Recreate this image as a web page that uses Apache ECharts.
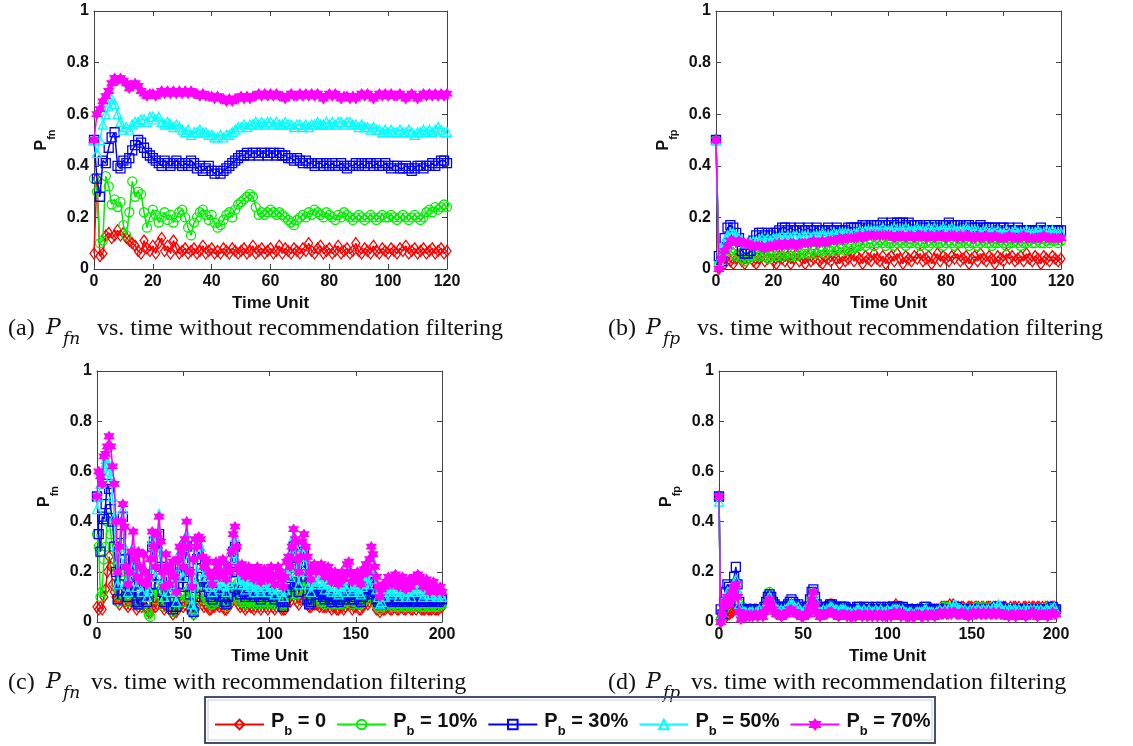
<!DOCTYPE html>
<html><head><meta charset="utf-8">
<script src="https://cdn.jsdelivr.net/npm/echarts@6/dist/echarts.min.js"></script>
<style>html,body{margin:0;padding:0;background:#fff}#c{width:1133px;height:746px}</style>
</head><body><div id="c"></div>
<script>
// ---------- (a) P_fn without filtering, t = 0..120 ----------
const fnA_0 = [.06,.35,.05,.06,.13,.14,.12,.13,.15,.13,
.14,.12,.11,.10,.09,.07,.06,.11,.08,.07,
.09,.06,.10,.12,.07,.09,.06,.11,.08,.06,
.07,.08,.06,.07,.08,.06,.07,.09,.06,.07,
.08,.06,.07,.06,.08,.07,.06,.08,.07,.06,
.07,.08,.06,.07,.09,.06,.07,.08,.06,.07,
.08,.06,.07,.09,.06,.08,.07,.06,.08,.07,
.06,.08,.07,.10,.07,.06,.08,.09,.06,.07,
.08,.06,.07,.09,.06,.07,.08,.06,.07,.10,
.07,.06,.08,.07,.06,.09,.07,.06,.08,.07,
.06,.08,.07,.06,.08,.07,.09,.06,.07,.08,
.06,.07,.08,.06,.07,.08,.06,.07,.08,.06,
.07];
const fnA_10 = [.35,.30,.10,.11,.36,.32,.25,.27,.24,.26,
.17,.13,.22,.34,.28,.30,.29,.22,.16,.20,
.23,.21,.18,.20,.22,.19,.21,.18,.20,.22,
.23,.20,.16,.13,.18,.20,.22,.23,.21,.19,
.21,.18,.16,.17,.19,.21,.22,.20,.23,.25,
.26,.27,.28,.29,.28,.24,.21,.22,.21,.22,
.23,.22,.21,.22,.21,.20,.19,.18,.17,.19,
.20,.21,.20,.22,.21,.23,.22,.21,.20,.22,
.21,.20,.19,.21,.20,.22,.21,.20,.19,.20,
.21,.20,.19,.20,.21,.20,.19,.20,.21,.20,
.20,.21,.20,.19,.20,.21,.20,.19,.20,.21,
.20,.19,.20,.22,.23,.22,.24,.23,.24,.25,
.24];
const fnA_30 = [.50,.35,.28,.42,.41,.47,.51,.53,.40,.39,
.42,.41,.43,.46,.48,.50,.49,.47,.45,.44,
.43,.42,.41,.40,.42,.41,.40,.41,.42,.41,
.40,.41,.40,.42,.41,.39,.40,.38,.39,.40,
.38,.37,.38,.37,.38,.39,.40,.41,.42,.43,
.44,.44,.45,.44,.45,.45,.44,.45,.45,.44,
.45,.45,.44,.45,.44,.44,.43,.43,.42,.43,
.42,.41,.42,.41,.41,.40,.41,.41,.40,.41,
.40,.41,.40,.40,.41,.40,.39,.40,.40,.41,
.40,.41,.40,.41,.41,.40,.41,.40,.40,.41,
.40,.39,.40,.40,.39,.39,.40,.39,.38,.39,
.40,.40,.39,.40,.40,.41,.40,.41,.42,.42,
.41];
const fnA_50 = [.50,.45,.50,.56,.60,.63,.66,.64,.60,.57,
.54,.55,.54,.56,.57,.57,.58,.58,.57,.59,
.59,.58,.59,.57,.56,.57,.56,.55,.56,.55,
.54,.53,.54,.52,.53,.53,.54,.53,.53,.52,
.52,.51,.51,.52,.51,.52,.52,.53,.54,.55,
.55,.56,.55,.56,.56,.57,.56,.57,.56,.57,
.57,.56,.57,.56,.56,.57,.56,.56,.55,.56,
.56,.55,.56,.55,.56,.56,.57,.56,.56,.57,
.56,.57,.56,.57,.57,.56,.57,.57,.56,.56,
.55,.56,.55,.55,.54,.55,.54,.54,.53,.54,
.53,.54,.53,.53,.54,.53,.53,.54,.53,.52,
.53,.53,.54,.53,.54,.53,.54,.55,.54,.53,
.53];
const fnA_70 = [.50,.60,.62,.65,.67,.69,.72,.74,.73,.74,
.73,.72,.70,.71,.72,.71,.69,.68,.67,.68,
.68,.67,.68,.69,.68,.69,.68,.69,.68,.69,
.68,.69,.68,.69,.68,.68,.67,.68,.67,.67,
.67,.66,.67,.66,.66,.65,.66,.65,.66,.66,
.67,.66,.67,.66,.67,.67,.68,.67,.68,.67,
.68,.67,.68,.67,.67,.66,.67,.68,.67,.67,
.68,.67,.68,.67,.68,.67,.68,.67,.66,.67,
.68,.67,.68,.67,.66,.67,.67,.66,.67,.66,
.67,.68,.67,.68,.67,.66,.67,.68,.67,.68,
.67,.68,.67,.67,.68,.67,.66,.67,.68,.67,
.66,.67,.68,.67,.68,.67,.68,.67,.68,.67,
.68];

// ---------- (b) P_fp without filtering, t = 0..120 ----------
const fpB_0 = [.50,.00,.03,.02,.05,.03,.02,.04,.05,.03,
.02,.04,.05,.03,.02,.04,.05,.03,.04,.06,
.03,.02,.05,.04,.03,.05,.02,.04,.06,.03,
.04,.02,.05,.03,.04,.06,.03,.02,.05,.04,
.03,.05,.04,.02,.05,.03,.04,.06,.03,.05,
.04,.02,.05,.04,.03,.06,.04,.03,.05,.02,
.04,.05,.03,.06,.04,.02,.05,.04,.03,.05,
.04,.06,.03,.04,.05,.02,.04,.06,.03,.05,
.04,.03,.05,.04,.06,.03,.04,.05,.02,.04,
.05,.03,.06,.04,.03,.05,.04,.02,.05,.04,
.03,.06,.04,.05,.03,.04,.05,.03,.06,.04,
.03,.05,.04,.02,.05,.04,.03,.05,.04,.03,
.04];
const fpB_10 = [.50,.02,.05,.07,.08,.07,.06,.05,.06,.04,
.03,.04,.05,.05,.06,.05,.06,.05,.04,.05,
.06,.05,.06,.05,.06,.06,.05,.06,.05,.06,
.06,.07,.06,.06,.07,.06,.07,.07,.06,.07,
.07,.08,.07,.08,.08,.07,.08,.09,.08,.09,
.09,.10,.09,.10,.10,.09,.10,.11,.10,.09,
.10,.10,.09,.10,.11,.10,.09,.10,.10,.11,
.10,.09,.10,.10,.09,.10,.11,.10,.10,.09,
.10,.11,.10,.09,.10,.10,.11,.10,.09,.10,
.10,.09,.10,.11,.10,.10,.09,.10,.10,.11,
.10,.09,.10,.10,.11,.10,.09,.10,.10,.11,
.10,.10,.11,.10,.10,.11,.10,.11,.11,.10,
.11];
const fpB_30 = [.50,.05,.03,.12,.16,.17,.16,.14,.12,.07,
.06,.06,.07,.11,.13,.14,.14,.13,.14,.13,
.14,.14,.15,.16,.16,.15,.16,.15,.15,.16,
.15,.15,.16,.15,.15,.16,.15,.15,.15,.16,
.15,.15,.16,.15,.15,.15,.16,.16,.16,.16,
.16,.17,.17,.16,.17,.17,.17,.17,.18,.17,
.17,.18,.17,.18,.18,.18,.17,.18,.17,.17,
.17,.17,.16,.17,.16,.16,.17,.16,.17,.17,
.17,.18,.17,.17,.17,.17,.16,.17,.17,.16,
.16,.16,.17,.16,.16,.16,.16,.16,.15,.16,
.16,.15,.16,.15,.15,.16,.15,.15,.15,.15,
.15,.15,.15,.16,.15,.15,.15,.15,.15,.15,
.15];
const fpB_50 = [.50,.03,.08,.11,.13,.14,.14,.13,.12,.11,
.10,.10,.10,.11,.11,.11,.12,.11,.12,.11,
.12,.12,.12,.13,.12,.13,.12,.13,.13,.12,
.13,.13,.13,.12,.13,.13,.13,.14,.13,.13,
.13,.14,.13,.14,.14,.14,.14,.13,.14,.14,
.15,.14,.15,.15,.15,.15,.15,.15,.16,.15,
.15,.15,.16,.15,.15,.15,.16,.15,.15,.15,
.16,.15,.15,.15,.16,.15,.16,.15,.15,.16,
.15,.15,.16,.15,.15,.15,.15,.16,.15,.15,
.15,.15,.14,.15,.15,.14,.15,.14,.15,.14,
.14,.15,.14,.14,.15,.14,.14,.14,.15,.14,
.14,.14,.15,.14,.14,.15,.14,.15,.14,.14,
.14];
const fpB_70 = [.50,.00,.04,.07,.09,.11,.11,.10,.11,.10,
.10,.10,.09,.09,.09,.09,.09,.08,.09,.09,
.09,.09,.10,.09,.10,.09,.10,.10,.09,.10,
.10,.10,.10,.10,.11,.10,.10,.11,.10,.11,
.11,.11,.11,.12,.11,.12,.12,.12,.12,.12,
.13,.12,.13,.13,.13,.13,.13,.13,.13,.13,
.13,.13,.12,.13,.13,.13,.12,.13,.13,.12,
.13,.13,.13,.12,.13,.13,.12,.13,.13,.13,
.12,.13,.13,.13,.12,.13,.12,.13,.13,.12,
.12,.13,.12,.12,.13,.12,.12,.13,.12,.12,
.12,.12,.13,.12,.12,.12,.12,.13,.12,.12,
.12,.12,.12,.12,.13,.12,.12,.12,.12,.12,
.12];

// ---------- (c) P_fn with filtering, t = 0..200 ----------
const fnC_0 = [.06,.05,.06,.05,.10,.13,.20,.26,.22,.15,
.12,.10,.08,.07,.09,.10,.08,.07,.06,.07,
.08,.09,.07,.05,.06,.07,.06,.07,.06,.05,
.04,.04,.06,.08,.06,.07,.09,.08,.06,.05,
.06,.06,.05,.04,.03,.04,.04,.06,.08,.07,
.06,.07,.09,.07,.05,.04,.03,.05,.09,.10,
.09,.07,.06,.07,.06,.05,.05,.06,.06,.07,
.07,.06,.07,.06,.05,.05,.06,.07,.09,.11,
.12,.09,.07,.06,.07,.06,.05,.06,.07,.06,
.06,.05,.06,.07,.06,.05,.06,.07,.06,.05,
.06,.07,.06,.05,.06,.07,.06,.05,.05,.05,
.07,.09,.08,.11,.13,.12,.08,.07,.09,.11,
.12,.09,.07,.06,.06,.07,.07,.07,.07,.06,
.07,.06,.06,.06,.07,.06,.05,.06,.06,.05,
.05,.06,.06,.05,.06,.07,.08,.07,.05,.06,
.06,.07,.05,.05,.06,.07,.08,.07,.08,.10,
.09,.07,.05,.05,.04,.05,.05,.05,.06,.06,
.05,.05,.06,.06,.05,.05,.06,.06,.05,.05,
.06,.06,.05,.05,.06,.05,.06,.06,.05,.05,
.05,.06,.05,.05,.05,.06,.05,.05,.05,.06,
.06];
const fnC_10 = [.35,.30,.10,.12,.25,.30,.40,.42,.35,.30,
.22,.15,.08,.12,.20,.25,.18,.10,.08,.09,
.12,.15,.10,.07,.08,.09,.07,.10,.08,.05,
.03,.02,.10,.15,.09,.12,.15,.12,.08,.06,
.10,.09,.07,.05,.04,.06,.05,.09,.12,.11,
.08,.12,.15,.10,.07,.04,.03,.06,.15,.17,
.14,.11,.09,.10,.09,.08,.07,.07,.08,.09,
.09,.08,.09,.08,.07,.06,.08,.09,.13,.16,
.17,.12,.09,.08,.09,.08,.07,.08,.09,.08,
.08,.07,.08,.09,.08,.07,.08,.09,.08,.07,
.08,.09,.08,.07,.08,.09,.08,.07,.06,.07,
.10,.12,.11,.15,.18,.16,.11,.09,.12,.15,
.17,.13,.09,.08,.08,.09,.10,.09,.09,.08,
.09,.08,.07,.08,.09,.08,.07,.08,.08,.07,
.07,.08,.08,.07,.08,.10,.11,.09,.07,.08,
.08,.09,.07,.07,.08,.09,.10,.09,.11,.13,
.12,.09,.07,.06,.05,.06,.06,.07,.07,.07,
.07,.06,.07,.07,.06,.06,.07,.07,.06,.06,
.07,.07,.06,.06,.07,.06,.07,.07,.06,.06,
.06,.07,.06,.06,.06,.07,.06,.06,.06,.07,
.07];
const fnC_30 = [.50,.35,.28,.42,.41,.47,.55,.53,.45,.40,
.30,.20,.09,.15,.35,.42,.25,.12,.10,.12,
.18,.25,.15,.08,.07,.12,.09,.17,.12,.08,
.10,.15,.30,.32,.15,.28,.35,.22,.12,.08,
.18,.14,.09,.06,.05,.08,.06,.15,.22,.20,
.14,.25,.30,.20,.11,.05,.04,.10,.25,.28,
.25,.18,.14,.16,.14,.12,.10,.09,.11,.13,
.12,.10,.12,.10,.08,.07,.10,.12,.22,.28,
.30,.20,.13,.11,.13,.12,.10,.11,.12,.11,
.12,.10,.11,.12,.10,.09,.11,.12,.11,.10,
.11,.12,.10,.09,.10,.12,.10,.08,.06,.08,
.12,.15,.14,.22,.30,.27,.16,.12,.18,.24,
.28,.20,.09,.07,.08,.12,.13,.11,.12,.11,
.12,.10,.09,.10,.11,.09,.08,.09,.10,.09,
.08,.09,.10,.09,.10,.13,.15,.11,.09,.09,
.10,.11,.09,.08,.10,.11,.13,.11,.14,.18,
.17,.12,.09,.08,.07,.07,.08,.08,.09,.09,
.08,.08,.09,.09,.08,.08,.09,.09,.08,.08,
.09,.09,.08,.08,.09,.08,.09,.09,.08,.08,
.08,.09,.08,.08,.08,.09,.08,.08,.08,.09,
.09];
const fnC_50 = [.45,.50,.55,.60,.62,.65,.63,.60,.58,.50,
.42,.30,.15,.25,.40,.45,.30,.16,.12,.16,
.22,.30,.20,.14,.22,.18,.12,.22,.16,.10,
.13,.20,.33,.28,.18,.33,.43,.28,.15,.10,
.22,.18,.12,.15,.18,.12,.08,.20,.28,.25,
.18,.30,.35,.25,.15,.07,.05,.15,.30,.32,
.30,.22,.18,.20,.18,.15,.14,.12,.15,.18,
.16,.13,.18,.20,.15,.12,.16,.15,.25,.30,
.34,.25,.17,.15,.17,.15,.13,.15,.17,.14,
.15,.12,.14,.16,.13,.12,.15,.16,.14,.12,
.15,.17,.13,.11,.14,.17,.15,.12,.10,.13,
.19,.22,.18,.27,.34,.30,.20,.15,.22,.28,
.32,.26,.20,.15,.12,.17,.18,.15,.17,.16,
.18,.15,.13,.16,.17,.13,.12,.14,.15,.12,
.11,.13,.15,.12,.14,.18,.20,.15,.12,.13,
.14,.15,.12,.11,.14,.16,.18,.15,.20,.26,
.24,.17,.13,.10,.07,.08,.10,.10,.12,.13,
.12,.11,.13,.14,.12,.10,.12,.13,.11,.10,
.12,.13,.10,.12,.13,.12,.14,.13,.12,.10,
.11,.13,.11,.10,.11,.12,.11,.10,.10,.11,
.10];
const fnC_70 = [.50,.60,.58,.55,.66,.67,.70,.74,.70,.62,
.55,.40,.20,.30,.40,.47,.38,.22,.15,.20,
.28,.36,.25,.18,.28,.22,.16,.27,.20,.15,
.18,.25,.36,.30,.22,.35,.42,.32,.20,.14,
.27,.22,.15,.20,.24,.18,.12,.25,.30,.28,
.22,.33,.40,.30,.20,.14,.25,.33,.30,.34,
.33,.26,.22,.25,.24,.20,.18,.15,.20,.24,
.22,.18,.24,.25,.20,.17,.22,.20,.28,.35,
.38,.30,.22,.20,.23,.21,.18,.20,.22,.19,
.21,.17,.19,.22,.18,.16,.20,.21,.19,.17,
.20,.22,.18,.15,.19,.22,.20,.17,.14,.18,
.24,.26,.22,.30,.37,.33,.25,.20,.26,.32,
.35,.30,.26,.20,.17,.22,.23,.20,.22,.21,
.23,.20,.18,.21,.22,.18,.16,.19,.20,.17,
.15,.18,.20,.17,.19,.23,.24,.20,.16,.18,
.19,.20,.17,.15,.19,.21,.23,.20,.25,.30,
.27,.22,.18,.14,.10,.13,.15,.14,.16,.18,
.17,.15,.18,.19,.16,.14,.17,.18,.15,.13,
.16,.17,.14,.16,.18,.17,.19,.18,.16,.14,
.15,.17,.14,.12,.15,.16,.14,.12,.13,.14,
.12];

// ---------- (d) P_fp with filtering, t = 0..200 ----------
const fpD_0 = [.50,.00,.01,.02,.02,.03,.03,.04,.04,.05,
.05,.05,.04,.04,.05,.05,.05,.04,.05,.05,
.04,.05,.05,.04,.05,.05,.05,.06,.07,.10,
.11,.10,.07,.06,.05,.05,.05,.04,.05,.05,
.05,.06,.06,.07,.06,.06,.05,.05,.05,.04,
.04,.05,.05,.05,.07,.09,.10,.08,.06,.05,
.05,.05,.05,.06,.06,.06,.07,.07,.06,.06,
.05,.05,.05,.05,.05,.05,.05,.04,.05,.04,
.05,.05,.05,.04,.05,.05,.05,.05,.04,.05,
.05,.05,.05,.04,.05,.05,.05,.05,.05,.05,
.05,.06,.05,.05,.06,.07,.06,.06,.06,.05,
.05,.05,.05,.04,.05,.05,.04,.04,.05,.05,
.04,.03,.04,.05,.05,.05,.05,.05,.05,.05,
.05,.05,.06,.06,.06,.06,.06,.07,.06,.07,
.06,.06,.06,.05,.06,.06,.05,.05,.06,.06,
.06,.05,.06,.06,.06,.05,.06,.06,.05,.06,
.06,.06,.05,.06,.06,.06,.05,.05,.05,.06,
.06,.05,.05,.06,.05,.06,.06,.05,.06,.05,
.05,.06,.06,.05,.06,.05,.06,.06,.05,.06,
.06,.05,.06,.05,.06,.06,.05,.06,.06,.06,
.05];
const fpD_10 = [.50,.01,.02,.05,.06,.08,.09,.10,.12,.14,
.16,.11,.07,.05,.06,.05,.04,.04,.05,.04,
.04,.04,.05,.05,.04,.05,.05,.06,.08,.11,
.12,.10,.08,.06,.05,.05,.05,.04,.05,.05,
.05,.06,.07,.07,.06,.06,.05,.05,.05,.04,
.04,.05,.05,.05,.08,.10,.12,.09,.06,.05,
.04,.05,.05,.05,.05,.06,.06,.07,.06,.05,
.05,.04,.05,.05,.04,.05,.04,.05,.04,.04,
.05,.04,.05,.05,.05,.04,.05,.05,.04,.05,
.05,.04,.05,.05,.04,.05,.05,.04,.05,.04,
.05,.05,.04,.05,.06,.05,.05,.06,.05,.05,
.05,.04,.05,.04,.05,.04,.04,.05,.05,.05,
.04,.05,.05,.05,.05,.04,.05,.05,.04,.05,
.05,.05,.05,.06,.05,.05,.06,.06,.06,.06,
.06,.06,.05,.05,.05,.05,.05,.05,.05,.05,
.05,.05,.05,.06,.05,.05,.05,.06,.05,.05,
.05,.05,.06,.05,.05,.06,.06,.05,.05,.05,
.05,.05,.05,.05,.04,.05,.05,.05,.05,.05,
.05,.05,.04,.05,.05,.05,.05,.04,.05,.05,
.05,.05,.05,.05,.05,.06,.05,.05,.06,.06,
.05];
const fpD_30 = [.50,.05,.03,.08,.12,.15,.14,.12,.13,.18,
.22,.15,.08,.05,.04,.05,.05,.04,.05,.05,
.05,.04,.05,.05,.05,.04,.05,.06,.08,.10,
.11,.10,.08,.07,.06,.06,.05,.06,.05,.06,
.06,.07,.08,.09,.08,.07,.06,.07,.06,.05,
.05,.06,.05,.06,.09,.12,.13,.10,.07,.05,
.05,.05,.06,.05,.06,.06,.07,.07,.06,.06,
.06,.05,.06,.06,.06,.06,.05,.05,.05,.04,
.05,.05,.06,.06,.05,.05,.06,.05,.05,.06,
.05,.05,.05,.06,.05,.05,.06,.05,.05,.05,
.06,.05,.05,.06,.06,.06,.06,.06,.05,.06,
.05,.05,.04,.05,.05,.04,.04,.05,.05,.05,
.05,.05,.06,.06,.05,.05,.05,.05,.04,.05,
.05,.05,.05,.05,.05,.05,.05,.05,.05,.05,
.05,.06,.05,.05,.05,.05,.05,.05,.05,.05,
.05,.05,.05,.05,.05,.05,.05,.05,.05,.05,
.05,.05,.05,.05,.05,.06,.06,.06,.05,.05,
.05,.05,.05,.05,.05,.05,.05,.05,.05,.05,
.05,.05,.05,.05,.05,.05,.05,.05,.05,.05,
.05,.05,.05,.05,.05,.05,.05,.05,.06,.05,
.05];
const fpD_50 = [.48,.02,.04,.07,.10,.12,.12,.11,.13,.15,
.17,.12,.07,.04,.03,.04,.04,.03,.04,.04,
.04,.03,.04,.04,.05,.04,.05,.05,.07,.09,
.10,.09,.07,.06,.05,.05,.04,.05,.04,.05,
.05,.06,.07,.07,.07,.06,.05,.06,.05,.04,
.04,.05,.04,.05,.08,.11,.12,.09,.06,.04,
.04,.04,.05,.04,.05,.05,.06,.06,.05,.05,
.05,.04,.05,.05,.05,.05,.04,.04,.04,.03,
.04,.04,.05,.05,.04,.04,.05,.04,.04,.05,
.04,.04,.04,.05,.04,.04,.05,.04,.04,.04,
.05,.04,.04,.05,.05,.05,.05,.05,.04,.05,
.04,.04,.03,.04,.04,.03,.03,.04,.04,.04,
.04,.04,.05,.05,.04,.04,.04,.04,.03,.04,
.04,.05,.04,.04,.05,.04,.05,.06,.05,.06,
.07,.06,.05,.05,.05,.04,.05,.04,.04,.05,
.04,.05,.04,.05,.05,.04,.05,.05,.04,.05,
.05,.04,.05,.06,.05,.06,.07,.06,.05,.04,
.05,.04,.05,.05,.04,.05,.05,.04,.05,.04,
.04,.05,.04,.05,.04,.05,.04,.05,.04,.05,
.04,.05,.04,.04,.05,.05,.04,.05,.05,.06,
.04];
const fpD_70 = [.50,.00,.03,.06,.08,.10,.07,.09,.12,.14,
.15,.10,.04,.01,.02,.03,.02,.03,.02,.03,
.02,.03,.03,.02,.03,.03,.02,.04,.05,.08,
.09,.07,.05,.04,.03,.03,.03,.02,.03,.03,
.03,.04,.05,.05,.04,.04,.03,.03,.03,.02,
.02,.03,.03,.03,.06,.09,.12,.07,.04,.03,
.02,.03,.03,.03,.03,.04,.04,.04,.03,.03,
.03,.02,.03,.03,.03,.03,.02,.03,.02,.02,
.03,.02,.03,.03,.03,.02,.03,.03,.02,.03,
.03,.02,.03,.03,.02,.03,.03,.02,.03,.02,
.03,.03,.02,.03,.04,.03,.03,.04,.02,.03,
.03,.02,.02,.02,.03,.02,.02,.03,.03,.03,
.02,.02,.03,.03,.02,.03,.03,.03,.02,.03,
.03,.04,.03,.03,.04,.03,.03,.04,.03,.04,
.04,.03,.03,.03,.04,.03,.03,.03,.02,.03,
.03,.04,.03,.03,.04,.03,.03,.04,.03,.03,
.04,.03,.03,.04,.03,.03,.04,.03,.03,.03,
.03,.03,.02,.03,.03,.03,.02,.03,.03,.03,
.03,.03,.02,.03,.03,.03,.04,.03,.03,.02,
.03,.03,.03,.03,.03,.02,.03,.03,.04,.03,
.03];

// ---------- labels ----------
const seriesNames = ['Pb0', 'Pb10', 'Pb30', 'Pb50', 'Pb70'];
const legendLabels = ['= 0', '= 10%', '= 30%', '= 50%', '= 70%'];
const xTicksAB = {max: 120, interval: 20};
const xTicksCD = {max: 200, interval: 50};
const yNames = ['fn', 'fp', 'fn', 'fp'];
const xTitle = 'Time Unit';
const captions = [
  {tag: '(a)', sub: 'fn', rest: ' vs. time without recommendation filtering'},
  {tag: '(b)', sub: 'fp', rest: ' vs. time without recommendation filtering'},
  {tag: '(c)', sub: 'fn', rest: 'vs. time with recommendation filtering'},
  {tag: '(d)', sub: 'fp', rest: 'vs. time with recommendation filtering'}
];

// ---------- styling ----------
const COLORS = ['#ff0000', '#00ee00', '#0000ff', '#00ffff', '#ff00ff'];
const HEX = 'path://M0,-10 L2.9,-5 L8.66,-5 L5.8,0 L8.66,5 L2.9,5 L0,10 L-2.9,5 L-8.66,5 L-5.8,0 L-8.66,-5 L-2.9,-5 Z';
const SYMBOLS = ['diamond', 'circle', 'rect', 'triangle', HEX];
const SYMSIZE = [[8, 11], 9, 9, 9, 9];
const FONT = 'Liberation Sans';
const SERIF = 'Liberation Serif';
const MATH = 'DejaVu Serif';

const panels = [
  {grid: {left: 94, top: 11, width: 353, height: 258}, x: xTicksAB, data: [fnA_0, fnA_10, fnA_30, fnA_50, fnA_70]},
  {grid: {left: 716, top: 11, width: 345, height: 258}, x: xTicksAB, data: [fpB_0, fpB_10, fpB_30, fpB_50, fpB_70]},
  {grid: {left: 97, top: 371, width: 345, height: 251}, x: xTicksCD, data: [fnC_0, fnC_10, fnC_30, fnC_50, fnC_70]},
  {grid: {left: 719, top: 371, width: 337, height: 251}, x: xTicksCD, data: [fpD_0, fpD_10, fpD_30, fpD_50, fpD_70]}
];

const axisLine = {show: true, onZero: false, lineStyle: {color: '#444', width: 1}};
const axisTick = {show: true, inside: true, length: 5, lineStyle: {color: '#444'}};
const tickLabel = {fontFamily: FONT, fontWeight: 'bold', fontSize: 16, color: '#111'};

const grids = [], xAxes = [], yAxes = [], series = [];
panels.forEach((p, i) => {
  grids.push(Object.assign({containLabel: false}, p.grid));
  xAxes.push({type: 'value', gridIndex: i, min: 0, max: p.x.max, interval: p.x.interval, position: 'bottom',
    axisLine, axisTick, splitLine: {show: false},
    axisLabel: Object.assign({margin: 5}, tickLabel),
    name: xTitle, nameLocation: 'middle', nameGap: 26,
    nameTextStyle: {fontFamily: FONT, fontWeight: 'bold', fontSize: 17, color: '#111'}});
  xAxes.push({type: 'value', gridIndex: i, min: 0, max: p.x.max, interval: p.x.interval, position: 'top',
    axisLine, axisTick, splitLine: {show: false}, axisLabel: {show: false}});
  yAxes.push({type: 'value', gridIndex: i, min: 0, max: 1, interval: 0.2, position: 'left',
    axisLine, axisTick, splitLine: {show: false},
    axisLabel: Object.assign({margin: 5}, tickLabel),
    name: '{p|P}{s|' + yNames[i] + '}', nameLocation: 'middle', nameGap: 37,
    nameTextStyle: {rich: {
      p: {fontFamily: FONT, fontWeight: 'bold', fontSize: 16, color: '#111', verticalAlign: 'top'},
      s: {fontFamily: FONT, fontWeight: 'bold', fontSize: 11, color: '#111', verticalAlign: 'top', padding: [12, 0, 0, 0]}
    }}});
  yAxes.push({type: 'value', gridIndex: i, min: 0, max: 1, interval: 0.2, position: 'right',
    axisLine, axisTick, splitLine: {show: false}, axisLabel: {show: false}});
  p.data.forEach((vals, k) => {
    series.push({
      type: 'line', name: seriesNames[k], xAxisIndex: 2 * i, yAxisIndex: 2 * i,
      data: vals.map((v, t) => [t, v]),
      symbol: SYMBOLS[k], symbolSize: SYMSIZE[k], showAllSymbol: true,
      itemStyle: {color: k === 4 ? COLORS[k] : 'rgba(255,255,255,0)', borderColor: COLORS[k], borderWidth: 1.3},
      lineStyle: {color: COLORS[k], width: 1.5},
      emphasis: {disabled: true}, z: 2 + k
    });
  });
});

const graphics = [];
const capPos = [[8, 331], [608, 331], [8, 685], [608, 685]];
captions.forEach((c, i) => {
  const [x, y] = capPos[i];
  graphics.push({type: 'text', left: x, top: y - 14, style: {
    text: '{t|' + c.tag + '}{i|P}{s|' + c.sub + '}{n|' + c.rest + '}',
    rich: {
      t: {fontFamily: SERIF, fontSize: 24, fill: '#111', width: 38, verticalAlign: 'top', lineHeight: 28},
      i: {fontFamily: MATH, fontStyle: 'italic', fontSize: 22, fill: '#111', width: 17, verticalAlign: 'top', lineHeight: 28},
      s: {fontFamily: MATH, fontStyle: 'italic', fontSize: 17, fill: '#111', width: 28, verticalAlign: 'top', lineHeight: 17, padding: [14, 0, 0, 0]},
      n: {fontFamily: SERIF, fontSize: 24, fill: '#111', verticalAlign: 'top', lineHeight: 28}
    }}});
});
graphics.push({type: 'rect', shape: {x: 205, y: 697, width: 730, height: 46}, style: {fill: 'none', stroke: '#40506e', lineWidth: 2}, z: 1});
graphics.push({type: 'rect', shape: {x: 208, y: 700, width: 724, height: 40}, style: {fill: 'none', stroke: '#c6ccd8', lineWidth: 1}, z: 1});

const option = {
  animation: false,
  backgroundColor: '#fff',
  grid: grids, xAxis: xAxes, yAxis: yAxes, series,
  legend: {
    data: seriesNames, left: 209, top: 706, orient: 'horizontal',
    itemWidth: 49, itemHeight: 12, itemGap: 10,
    formatter: (name) => '{p|P}{s|b}{t| ' + legendLabels[seriesNames.indexOf(name)] + '}',
    textStyle: {rich: {
      p: {fontFamily: FONT, fontWeight: 'bold', fontSize: 20, color: '#111', verticalAlign: 'top', padding: [0, 0, 0, 2]},
      s: {fontFamily: FONT, fontWeight: 'bold', fontSize: 13, color: '#111', verticalAlign: 'top', padding: [14, 0, 0, 0]},
      t: {fontFamily: FONT, fontWeight: 'bold', fontSize: 20, color: '#111', verticalAlign: 'top'}
    }}
  },
  graphic: graphics
};
const chart = echarts.init(document.getElementById('c'));
chart.setOption(option);
</script>
</body></html>
